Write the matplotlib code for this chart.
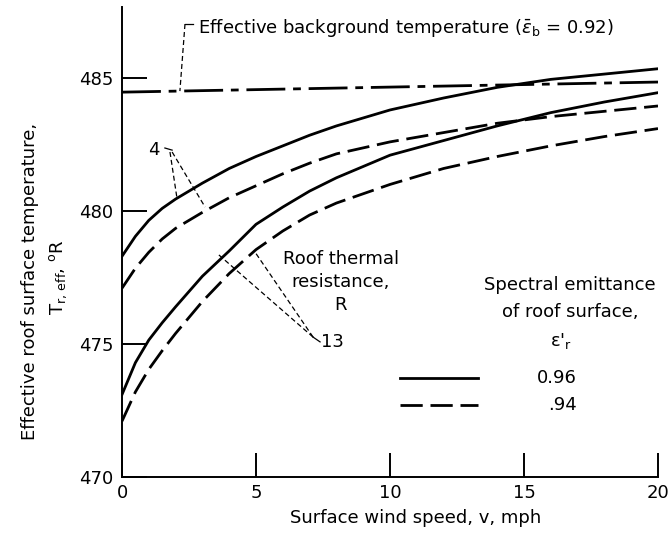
import matplotlib
matplotlib.use("Agg")
import matplotlib.pyplot as plt

plt.rcParams['font.family'] = ['DejaVu Sans']
plt.rcParams['mathtext.fontset'] = 'dejavusans'

# wind speed, mph
v = [0, 0.5, 1, 1.5, 2, 3, 4, 5, 6, 7, 8, 10, 12, 14, 16, 18, 20]

# effective roof surface temperature, deg R
r4_096 = [478.3, 479.05, 479.65, 480.1, 480.45, 481.05, 481.6, 482.05, 482.45,
          482.85, 483.2, 483.8, 484.25, 484.65, 484.95, 485.15, 485.35]
r4_094 = [477.1, 477.85, 478.45, 478.95, 479.35, 479.95, 480.5, 480.95, 481.4,
          481.8, 482.15, 482.6, 482.95, 483.3, 483.55, 483.75, 483.95]
r13_096 = [473.1, 474.3, 475.15, 475.8, 476.4, 477.55, 478.5, 479.5, 480.15,
           480.75, 481.25, 482.1, 482.65, 483.2, 483.7, 484.1, 484.45]
r13_094 = [472.1, 473.2, 474.05, 474.75, 475.4, 476.6, 477.65, 478.55, 479.25,
           479.85, 480.3, 481.0, 481.6, 482.05, 482.45, 482.8, 483.1]

# effective background temperature line
bg_v = [0, 20]
bg_t = [484.47, 484.85]

xticks = [0, 5, 10, 15, 20]
yticks = [470, 475, 480, 485]

fig = plt.figure(figsize=(6.7, 5.37), dpi=100)
ax = fig.add_axes([0.1821, 0.1117, 0.8, 0.8752])

dash = (0, (8, 2.8))
lw = 2.0
ax.plot(v, r4_096, color='black', lw=lw)
ax.plot(v, r4_094, color='black', lw=lw, linestyle=dash)
ax.plot(v, r13_096, color='black', lw=lw)
ax.plot(v, r13_094, color='black', lw=lw, linestyle=dash)
ax.plot(bg_v, bg_t, color='black', lw=lw, linestyle=(0, (14, 2.8, 2.8, 2.8)))

fs = 13
lead = dict(color='black', lw=0.9, linestyle=(0, (4, 2.4)))

# background temperature label and leader
ax.text(2.84, 486.88, r"Effective background temperature ($\bar{\varepsilon}_\mathrm{b}$ = 0.92)",
        fontsize=fs, ha='left', va='center')
ax.plot([2.35, 2.16], [487.03, 484.51], **lead)
ax.plot([2.35, 2.65], [487.03, 487.03], color='black', lw=0.9)

# R = 4 label
ax.text(1.19, 482.29, "4", fontsize=fs, ha='center', va='center')
ax.plot([1.60, 1.87], [482.37, 482.29], color='black', lw=0.9)
ax.plot([1.79, 2.05], [482.22, 480.49], **lead)
ax.plot([1.87, 3.10], [482.22, 480.15], **lead)

# R = 13 label
ax.text(7.43, 475.08, "13", fontsize=fs, ha='left', va='center')
ax.plot([7.13, 7.39], [475.26, 475.08], color='black', lw=0.9)
ax.plot([7.13, 3.58], [475.26, 478.38], **lead)
ax.plot([7.13, 4.96], [475.26, 478.46], **lead)

ax.text(8.17, 477.33, "Roof thermal\nresistance,\nR", fontsize=fs,
        ha='center', va='center', linespacing=1.35)

# emittance key
ax.text(16.72, 477.22, "Spectral emittance", fontsize=fs, ha='center', va='center')
ax.text(16.72, 476.2, "of roof surface,", fontsize=fs, ha='center', va='center')
ax.text(16.4, 475.1, r"ε'$_\mathrm{r}$", fontsize=fs, ha='center', va='center')
ax.plot([10.37, 13.28], [473.72, 473.72], color='black', lw=lw)
ax.plot([10.37, 13.28], [472.71, 472.71], color='black', lw=lw, linestyle=dash)
ax.text(16.98, 473.72, "0.96", fontsize=fs, ha='right', va='center')
ax.text(16.98, 472.71, ".94", fontsize=fs, ha='right', va='center')

ax.set_xlim(0, 20)
ax.set_ylim(470, 487.67)
ax.set_xticks(xticks)
ax.set_yticks(yticks)
ax.tick_params(axis='both', direction='in', labelsize=fs, width=1.4)
ax.tick_params(axis='y', length=18, pad=6)
ax.tick_params(axis='x', length=17, pad=5)
for s in ['top', 'right']:
    ax.spines[s].set_visible(False)
for s in ['left', 'bottom']:
    ax.spines[s].set_linewidth(1.4)

ax.set_xlabel("Surface wind speed, v, mph", fontsize=fs, va='center')
ax.xaxis.set_label_coords(0.548, -0.087)
ax.set_ylabel("Effective roof surface temperature,", fontsize=fs, va='center')
ax.yaxis.set_label_coords(-0.172, 0.417)
ax.text(-0.119, 0.426, r"$\mathrm{T_{r,\,eff}}$, $^\mathrm{o}$R", transform=ax.transAxes,
        fontsize=fs, rotation=90, ha='center', va='center')

fig.savefig("out.png", dpi=100)
